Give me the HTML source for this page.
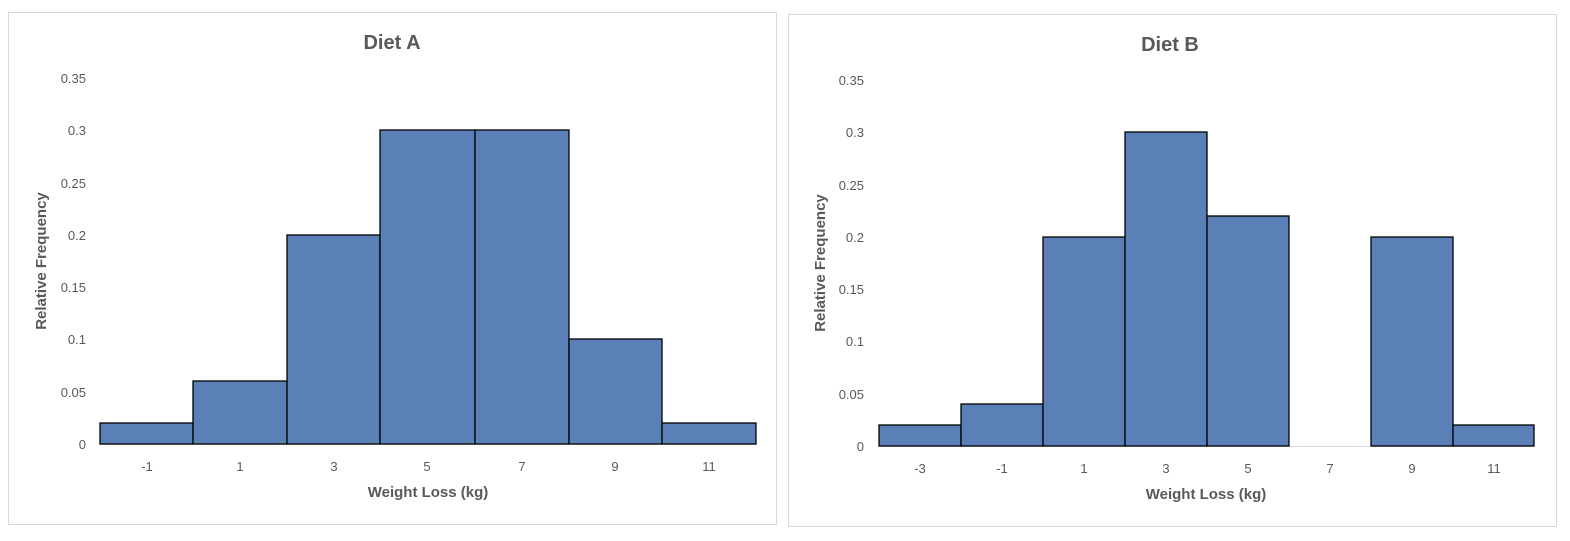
<!DOCTYPE html>
<html><head><style>body{margin:0;background:#fff}</style></head><body>
<svg width="1570" height="536" xmlns="http://www.w3.org/2000/svg" font-family="Liberation Sans, sans-serif">
<rect width="1570" height="536" fill="#fff"/>
<rect x="8.5" y="12.5" width="768" height="512" fill="#fff" stroke="#d9d9d9"/>
<rect x="788.5" y="14.5" width="768" height="512" fill="#fff" stroke="#d9d9d9"/>
<g fill="#595959">
<text x="392" y="49" font-size="20" font-weight="bold" text-anchor="middle">Diet A</text>
<text x="1170" y="51" font-size="20" font-weight="bold" text-anchor="middle">Diet B</text>
<g font-size="13" text-anchor="end">
<text x="86" y="83">0.35</text><text x="86" y="135">0.3</text><text x="86" y="188">0.25</text><text x="86" y="240">0.2</text><text x="86" y="292">0.15</text><text x="86" y="344">0.1</text><text x="86" y="397">0.05</text><text x="86" y="449">0</text>
<text x="864" y="85">0.35</text><text x="864" y="137">0.3</text><text x="864" y="190">0.25</text><text x="864" y="242">0.2</text><text x="864" y="294">0.15</text><text x="864" y="346">0.1</text><text x="864" y="399">0.05</text><text x="864" y="451">0</text>
</g>
<g font-size="13" text-anchor="middle">
<text x="147" y="471">-1</text><text x="240" y="471">1</text><text x="334" y="471">3</text><text x="427" y="471">5</text><text x="522" y="471">7</text><text x="615" y="471">9</text><text x="709" y="471">11</text>
<text x="920" y="473">-3</text><text x="1002" y="473">-1</text><text x="1084" y="473">1</text><text x="1166" y="473">3</text><text x="1248" y="473">5</text><text x="1330" y="473">7</text><text x="1412" y="473">9</text><text x="1494" y="473">11</text>
</g>
<text x="428" y="497" font-size="15" font-weight="bold" text-anchor="middle">Weight Loss (kg)</text>
<text x="1206" y="499" font-size="15" font-weight="bold" text-anchor="middle">Weight Loss (kg)</text>
<text transform="translate(46,261) rotate(-90)" font-size="15" font-weight="bold" text-anchor="middle">Relative Frequency</text>
<text transform="translate(825,263) rotate(-90)" font-size="15" font-weight="bold" text-anchor="middle">Relative Frequency</text>
</g>
<line x1="100" y1="444.5" x2="756" y2="444.5" stroke="#d9d9d9"/>
<line x1="879" y1="446.5" x2="1534" y2="446.5" stroke="#d9d9d9"/>
<g fill="#5b80b7" stroke="#000" stroke-width="1.3">
<rect x="100" y="423" width="93" height="21"/>
<rect x="193" y="381" width="94" height="63"/>
<rect x="287" y="235" width="93" height="209"/>
<rect x="380" y="130" width="95" height="314"/>
<rect x="475" y="130" width="94" height="314"/>
<rect x="569" y="339" width="93" height="105"/>
<rect x="662" y="423" width="94" height="21"/>
<rect x="879" y="425" width="82" height="21"/>
<rect x="961" y="404" width="82" height="42"/>
<rect x="1043" y="237" width="82" height="209"/>
<rect x="1125" y="132" width="82" height="314"/>
<rect x="1207" y="216" width="82" height="230"/>
<rect x="1371" y="237" width="82" height="209"/>
<rect x="1453" y="425" width="81" height="21"/>
</g>
</svg>
</body></html>
